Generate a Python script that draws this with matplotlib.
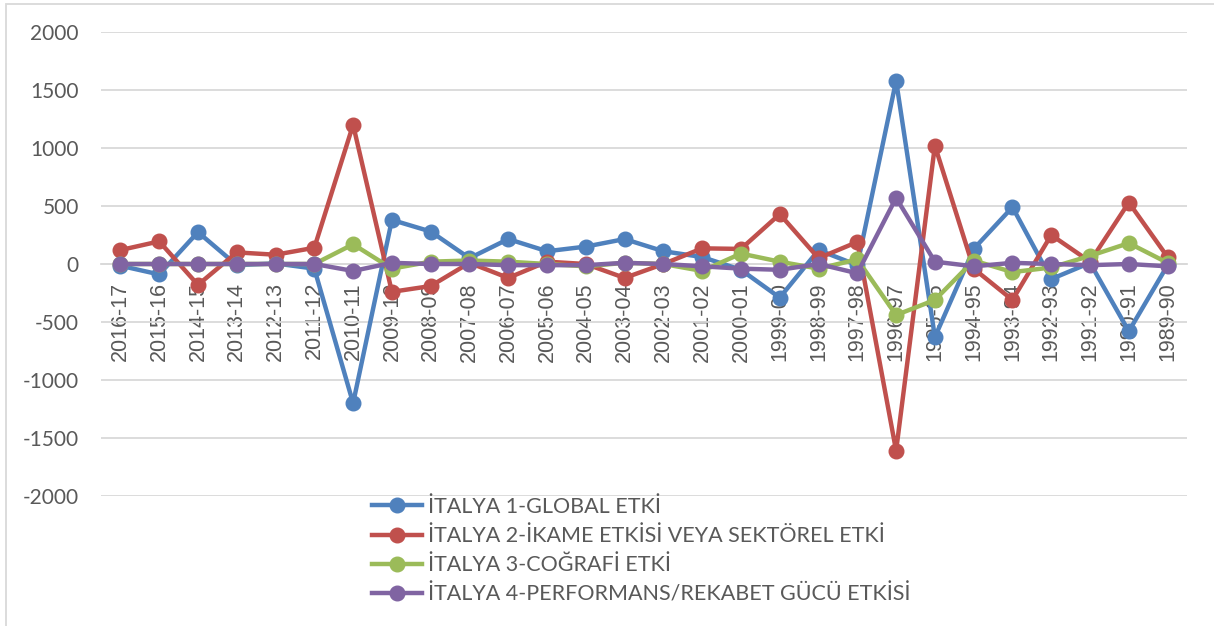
import numpy as np
import matplotlib.pyplot as plt
from matplotlib.patches import Rectangle

plt.rcParams['axes.unicode_minus'] = False

# kategoriler (sezonlar)
sezonlar = ['2016-17', '2015-16', '2014-15', '2013-14', '2012-13', '2011-12', '2010-11',
            '2009-10', '2008-09', '2007-08', '2006-07', '2005-06', '2004-05', '2003-04',
            '2002-03', '2001-02', '2000-01', '1999-00', '1998-99', '1997-98', '1996-97',
            '1995-96', '1994-95', '1993-94', '1992-93', '1991-92', '1990-91', '1989-90']

global_etki = [-15, -90, 275, -10, 5, -40, -1200, 380, 280, 50, 215, 110, 150, 215,
               110, 60, -50, -290, 120, -10, 1580, -630, 130, 490, -130, 10, -580, -10]
ikame_etki = [120, 195, -180, 100, 80, 140, 1200, -240, -190, 10, -120, 20, 0, -120,
              0, 135, 130, 430, 50, 190, -1610, 1020, -40, -310, 250, 20, 530, 60]
cografi_etki = [0, 0, 0, 0, 0, 0, 170, -40, 20, 30, 20, 0, -20, 10,
                0, -60, 90, 20, -40, 40, -440, -310, 30, -70, -30, 70, 180, 10]
performans_etki = [0, 0, 0, 0, 0, 0, -60, 10, 0, 0, -10, -10, -10, 10,
                   0, -20, -40, -50, 0, -80, 570, 20, -20, 10, 0, -10, 0, -20]

seriler = [
    ('İTALYA 1-GLOBAL ETKİ', global_etki, '#4F81BD'),
    ('İTALYA 2-İKAME ETKİSİ VEYA SEKTÖREL ETKİ', ikame_etki, '#C0504D'),
    ('İTALYA 3-COĞRAFİ ETKİ', cografi_etki, '#9BBB59'),
    ('İTALYA 4-PERFORMANS/REKABET GÜCÜ ETKİSİ', performans_etki, '#8064A2'),
]

W, H = 1214, 626
fig = plt.figure(figsize=(W / 100, H / 100), dpi=100)
ax = fig.add_axes([101 / W, 1 - 496 / H, 1086 / W, 464 / H])

x = np.arange(len(sezonlar))
for ad, deger, renk in seriler:
    ax.plot(x, deger, color=renk, lw=3.2, marker='o', ms=10.5, label=ad, zorder=3)

ax.set_xlim(-0.5, len(sezonlar) - 0.5)
ax.set_ylim(-2000, 2000)
ax.set_yticks(np.arange(-2000, 2001, 500))
ax.grid(axis='y', color='#D9D9D9', lw=1.3, zorder=0)
ax.set_axisbelow(True)

for s in ['top', 'right', 'left']:
    ax.spines[s].set_visible(False)
ax.spines['bottom'].set_position(('data', 0))
ax.spines['bottom'].set_color('#D9D9D9')
ax.spines['bottom'].set_linewidth(1.3)

ax.set_xticks(x)
ax.set_xticklabels(sezonlar, rotation=90, fontsize=15.5, color='#595959',
                   family='Liberation Sans')
ax.tick_params(axis='x', length=0, pad=13)
ax.tick_params(axis='y', length=0, pad=16, labelsize=15, labelcolor='#595959')
for t in ax.get_yticklabels():
    t.set_family('Lato')

leg = fig.legend(loc='upper left', bbox_to_anchor=(372 / W, 1 - 497 / H),
                 frameon=False, prop={'family': 'Lato', 'size': 15.5},
                 handlelength=2.32, handletextpad=0.28, labelspacing=0.42,
                 borderpad=0, borderaxespad=0)
for t in leg.get_texts():
    t.set_color('#595959')

fig.patches.append(Rectangle((6 / W, -0.1), 1.2, 1 - 4 / H + 0.1, transform=fig.transFigure,
                             fill=False, edgecolor='#D9D9D9', lw=1.3))

fig.savefig('out.png', dpi=100)
